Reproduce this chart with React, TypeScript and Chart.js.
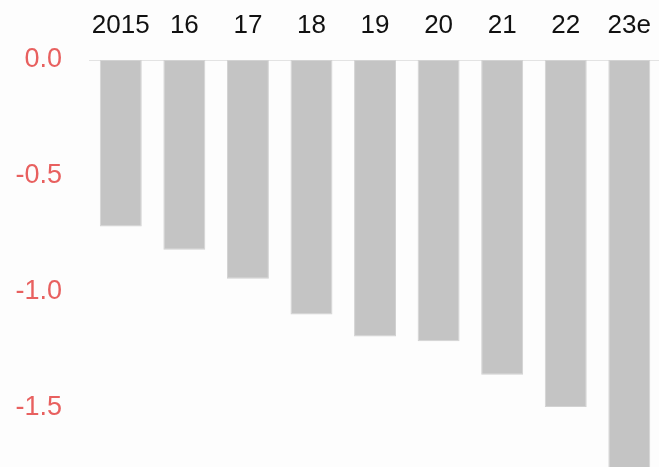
import React, { useEffect, useRef } from "react";
import { Chart, registerables } from "chart.js";

Chart.register(...registerables);

const categories = ["2015", "16", "17", "18", "19", "20", "21", "22", "23e"];
const values = [-0.72, -0.82, -0.945, -1.1, -1.195, -1.215, -1.36, -1.5, -1.85];
const yTickValues = [0, -0.5, -1, -1.5, -2];

const W = 670;
const H = 566;

export default function App() {
  const ref = useRef<HTMLCanvasElement | null>(null);

  useEffect(() => {
    if (!ref.current) return;
    const chart = new Chart(ref.current, {
      type: "bar",
      data: {
        labels: categories,
        datasets: [
          {
            data: values,
            backgroundColor: "#c4c4c4",
            borderColor: "#d2d2d2",
            borderWidth: 1,
            borderSkipped: false,
            categoryPercentage: 1,
            barPercentage: 0.66,
          },
        ],
      },
      options: {
        responsive: false,
        animation: false,
        devicePixelRatio: 1,
        layout: { padding: 0 },
        plugins: { legend: { display: false }, tooltip: { enabled: false } },
        scales: {
          x: {
            position: "top",
            grid: { display: false, drawTicks: false },
            border: { display: true, color: "#e3e3e3", width: 1 },
            ticks: {
              color: "#111111",
              font: { family: "'Liberation Sans', Arial, sans-serif", size: 26 },
              padding: 19,
              maxRotation: 0,
              autoSkip: false,
            },
            afterFit: (s: any) => {
              s.height = 60;
            },
          },
          y: {
            min: -2,
            max: 0,
            grid: { display: false, drawTicks: false },
            border: { display: false },
            afterBuildTicks: (s: any) => {
              s.ticks = yTickValues.map((v) => ({ value: v }));
            },
            ticks: {
              color: "#e8605f",
              font: { family: "'Liberation Sans', Arial, sans-serif", size: 27 },
              padding: 27,
              callback: (v: any) => Number(v).toFixed(1),
            },
            afterFit: (s: any) => {
              s.width = 89;
            },
          },
        },
      },
    });
    return () => chart.destroy();
  }, []);

  return (
    <div
      style={{
        position: "fixed",
        left: 0,
        top: 0,
        width: 659,
        height: 467,
        overflow: "hidden",
        background: "#fdfdfd",
      }}
    >
      <canvas ref={ref} width={W} height={H} style={{ display: "block", width: W, height: H }} />
    </div>
  );
}
